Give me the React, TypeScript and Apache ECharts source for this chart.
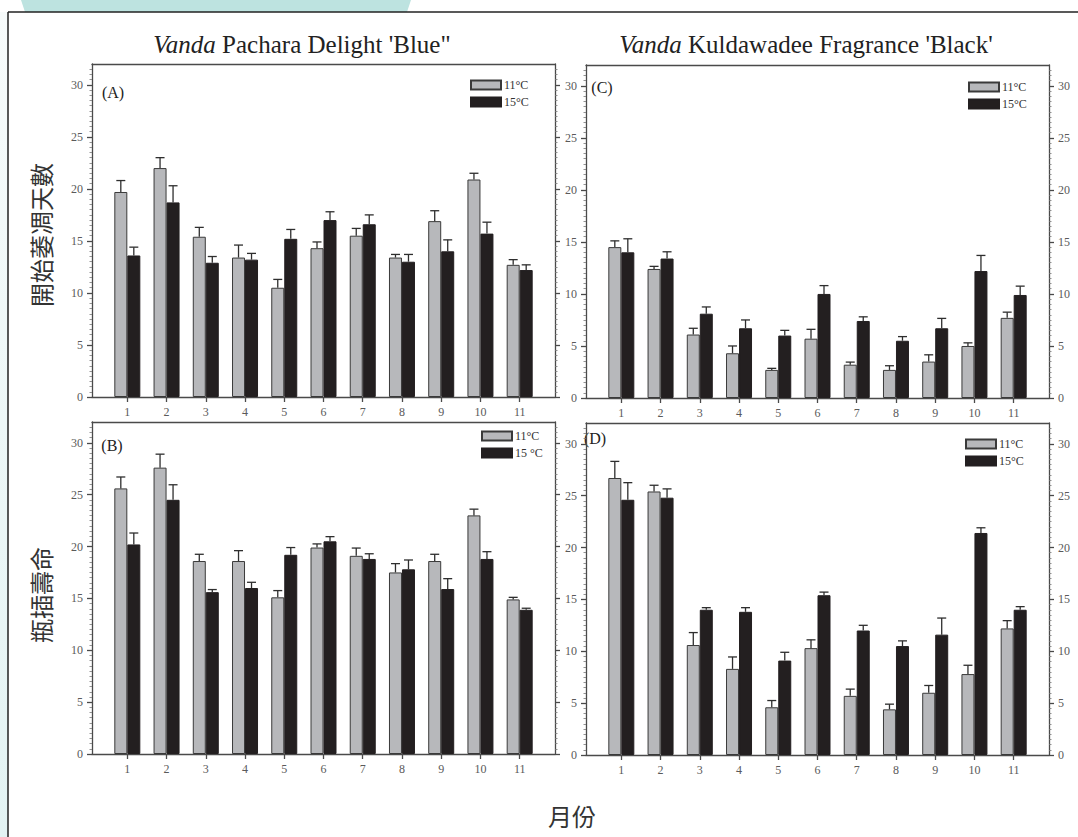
import React, { useEffect, useRef } from "react";
import * as echarts from "echarts";

const months = [1, 2, 3, 4, 5, 6, 7, 8, 9, 10, 11];
const yTicks = [0, 5, 10, 15, 20, 25, 30];

// Panel A: Vanda Pachara Delight 'Blue' – days to wilting
const a11 = [19.7, 22.0, 15.4, 13.4, 10.5, 14.3, 15.5, 13.4, 16.9, 20.9, 12.7];
const a11Se = [1.1, 1.0, 0.9, 1.2, 0.8, 0.6, 0.7, 0.3, 1.0, 0.6, 0.5];
const a15 = [13.6, 18.7, 12.9, 13.2, 15.2, 17.0, 16.6, 13.0, 14.0, 15.7, 12.2];
const a15Se = [0.8, 1.6, 0.6, 0.6, 0.9, 0.8, 0.9, 0.7, 1.1, 1.1, 0.5];

// Panel C: Vanda Kuldawadee Fragrance 'Black' – days to wilting
const c11 = [14.5, 12.4, 6.1, 4.3, 2.7, 5.7, 3.2, 2.7, 3.5, 5.0, 7.7];
const c11Se = [0.6, 0.25, 0.6, 0.7, 0.15, 0.9, 0.25, 0.4, 0.65, 0.3, 0.55];
const c15 = [14.0, 13.4, 8.1, 6.7, 6.0, 10.0, 7.4, 5.5, 6.7, 12.2, 9.9];
const c15Se = [1.3, 0.65, 0.65, 0.8, 0.5, 0.8, 0.4, 0.4, 0.95, 1.5, 0.85];

// Panel B: Vanda Pachara Delight 'Blue' – vase life
const b11 = [25.6, 27.6, 18.6, 18.6, 15.1, 19.9, 19.1, 17.5, 18.6, 23.0, 14.9];
const b11Se = [1.1, 1.3, 0.65, 1.0, 0.65, 0.35, 0.75, 0.85, 0.65, 0.6, 0.2];
const b15 = [20.2, 24.5, 15.6, 16.0, 19.2, 20.5, 18.8, 17.8, 15.9, 18.8, 13.9];
const b15Se = [1.1, 1.45, 0.25, 0.55, 0.7, 0.45, 0.5, 0.9, 1.0, 0.7, 0.15];

// Panel D: Vanda Kuldawadee Fragrance 'Black' – vase life
const d11 = [26.7, 25.4, 10.6, 8.3, 4.6, 10.3, 5.7, 4.4, 6.0, 7.8, 12.2];
const d11Se = [1.6, 0.6, 1.2, 1.15, 0.65, 0.8, 0.65, 0.5, 0.7, 0.85, 0.75];
const d15 = [24.6, 24.8, 14.0, 13.8, 9.1, 15.4, 12.0, 10.5, 11.6, 21.4, 14.0];
const d15Se = [1.65, 0.85, 0.2, 0.4, 0.8, 0.3, 0.5, 0.5, 1.6, 0.5, 0.3];

const legendText: Record<string, string> = {
  A11: "11°C",
  A15: "15°C",
  B11: "11°C",
  B15: "15 °C",
  C11: "11°C",
  C15: "15°C",
  D11: "11°C",
  D15: "15°C",
};

const titleGenus = "Vanda";
const titleLeft = " Pachara Delight 'Blue\"";
const titleRight = " Kuldawadee Fragrance 'Black'";

const SERIF = "'Liberation Serif', 'Times New Roman', serif";
const CJK = "'Noto Sans CJK TC', 'Noto Sans CJK SC', sans-serif";
const AXIS_COLOR = "#4a4a4a";
const LABEL_COLOR = "#5a5a5a";
const GRAY = "#b7b8bb";
const BLACK = "#231f20";
const BAR_W = 13;
const TITLE_FONT = `25px ${SERIF}`;
const TITLE_FONT_I = `italic 25px ${SERIF}`;

function measure(text: string, font: string) {
  const ctx = document.createElement("canvas").getContext("2d");
  if (!ctx) return text.length * 11;
  ctx.font = font;
  return ctx.measureText(text).width;
}

export default function App() {
  const ref = useRef<HTMLDivElement>(null);

  useEffect(() => {
    if (!ref.current) return;
    const chart = echarts.init(ref.current, undefined, { renderer: "svg" });

    const grids = [
      { left: 92, top: 64, width: 463, height: 333 },
      { left: 586, top: 65, width: 463, height: 333 },
      { left: 92, top: 422, width: 463, height: 332 },
      { left: 586, top: 423, width: 463, height: 332 },
    ];

    const lineStyle = { color: AXIS_COLOR, width: 1.3 };
    const labelStyle = { color: LABEL_COLOR, fontSize: 12, fontFamily: SERIF };

    const xAxis: any[] = [];
    const yAxis: any[] = [];
    grids.forEach((_, g) => {
      xAxis.push({
        type: "value",
        gridIndex: g,
        min: 0.1,
        max: 11.9,
        position: "bottom",
        axisLine: { show: true, onZero: false, lineStyle },
        axisTick: { show: true, customValues: months, length: 5, lineStyle },
        axisLabel: { customValues: months, margin: 9, ...labelStyle },
        splitLine: { show: false },
      });
      xAxis.push({
        type: "value",
        gridIndex: g,
        min: 0.1,
        max: 11.9,
        position: "top",
        axisLine: { show: true, onZero: false, lineStyle },
        axisTick: { show: false },
        axisLabel: { show: false },
        splitLine: { show: false },
      });
      const rightLabels = g === 1 || g === 3;
      const mk = (pos: string, showLabel: boolean) => ({
        type: "value",
        gridIndex: g,
        min: 0,
        max: 32,
        interval: 5,
        position: pos,
        axisLine: { show: true, onZero: false, lineStyle },
        axisTick: { show: true, customValues: yTicks, length: 5, lineStyle },
        minorTick: {
          show: true,
          splitNumber: 10,
          length: 2.5,
          lineStyle: { color: "#777", width: 0.8 },
        },
        axisLabel: { show: showLabel, customValues: yTicks, margin: 9, ...labelStyle },
        splitLine: { show: false },
        minorSplitLine: { show: false },
      });
      yAxis.push(mk("left", true));
      yAxis.push(mk("right", rightLabels));
    });

    const panels = [
      { key: "A", g: 0, v11: a11, e11: a11Se, v15: a15, e15: a15Se },
      { key: "C", g: 1, v11: c11, e11: c11Se, v15: c15, e15: c15Se },
      { key: "B", g: 2, v11: b11, e11: b11Se, v15: b15, e15: b15Se },
      { key: "D", g: 3, v11: d11, e11: d11Se, v15: d15, e15: d15Se },
    ];

    const errSeries = (g: number, vals: number[], se: number[], offset: number) => ({
      type: "custom",
      xAxisIndex: 2 * g,
      yAxisIndex: 2 * g,
      z: 5,
      silent: true,
      data: months.map((m, i) => [m, vals[i], vals[i] + se[i]]),
      renderItem: (params: any, api: any) => {
        const p0 = api.coord([api.value(0), api.value(1)]);
        const p1 = api.coord([api.value(0), api.value(2)]);
        const x = p0[0] + offset;
        const style = { stroke: "#2e2e2e", lineWidth: 1.3 };
        return {
          type: "group",
          children: [
            { type: "line", shape: { x1: x, y1: p0[1], x2: x, y2: p1[1] }, style },
            { type: "line", shape: { x1: x - 4.5, y1: p1[1], x2: x + 4.5, y2: p1[1] }, style },
          ],
        };
      },
    });

    const series: any[] = [];
    panels.forEach((p) => {
      series.push({
        type: "bar",
        name: p.key + "11",
        xAxisIndex: 2 * p.g,
        yAxisIndex: 2 * p.g,
        barWidth: BAR_W,
        barGap: "0%",
        data: months.map((m, i) => [m, p.v11[i]]),
        itemStyle: { color: GRAY, borderColor: "#3a3a3a", borderWidth: 1 },
      });
      series.push({
        type: "bar",
        name: p.key + "15",
        xAxisIndex: 2 * p.g,
        yAxisIndex: 2 * p.g,
        barWidth: BAR_W,
        barGap: "0%",
        data: months.map((m, i) => [m, p.v15[i]]),
        itemStyle: { color: BLACK, borderColor: BLACK, borderWidth: 1 },
      });
      series.push(errSeries(p.g, p.v11, p.e11, -BAR_W / 2));
      series.push(errSeries(p.g, p.v15, p.e15, BAR_W / 2));
    });

    const legendPos: Record<string, [number, number]> = {
      A: [470, 79],
      C: [968, 81],
      B: [481, 430],
      D: [965, 438],
    };
    const legend = panels.map((p) => ({
      data: [p.key + "11", p.key + "15"],
      orient: "vertical",
      left: legendPos[p.key][0],
      top: legendPos[p.key][1],
      padding: 0,
      itemWidth: 30,
      itemHeight: 9,
      itemGap: 5,
      icon: "rect",
      selectedMode: false,
      formatter: (n: string) => legendText[n],
      textStyle: { fontFamily: SERIF, fontSize: 12, color: "#333", padding: [0, 0, 0, -2] },
    }));

    const panelLabel = (t: string, x: number, y: number) => ({
      type: "text",
      x,
      y,
      style: {
        text: t,
        fill: "#222",
        font: `16px ${SERIF}`,
        align: "center",
        verticalAlign: "middle",
      },
    });

    const titleParts = (rest: string, cx: number, cy: number) => {
      const wI = measure(titleGenus, TITLE_FONT_I);
      const wR = measure(rest, TITLE_FONT);
      const x0 = cx - (wI + wR) / 2;
      return [
        {
          type: "text",
          x: x0,
          y: cy,
          style: { text: titleGenus, font: TITLE_FONT_I, fill: "#222", align: "left", verticalAlign: "middle" },
        },
        {
          type: "text",
          x: x0 + wI,
          y: cy,
          style: { text: rest, font: TITLE_FONT, fill: "#222", align: "left", verticalAlign: "middle" },
        },
      ];
    };

    const cjkText = (t: string, x: number, y: number, rotation: number) => ({
      type: "text",
      x,
      y,
      rotation,
      style: {
        text: t,
        align: "center",
        verticalAlign: "middle",
        fill: "#333",
        font: `24px ${CJK}`,
      },
    });

    const graphic: any[] = [
      {
        type: "rect",
        shape: { x: 0, y: 12, width: 8, height: 825 },
        style: {
          fill: new echarts.graphic.LinearGradient(0, 0, 0, 1, [
            { offset: 0, color: "#f7fbfb" },
            { offset: 1, color: "#e3f3f3" },
          ]),
        },
        silent: true,
        z: -10,
      },
      {
        type: "polygon",
        shape: { points: [[21, 0], [411, 0], [407, 12], [25, 12]] },
        style: { fill: "#bde3e0" },
        silent: true,
        z: -10,
      },
      {
        type: "line",
        shape: { x1: 8, y1: 12, x2: 1078, y2: 12 },
        style: { stroke: "#222", lineWidth: 1.5 },
        silent: true,
      },
      {
        type: "line",
        shape: { x1: 8, y1: 12, x2: 8, y2: 837 },
        style: { stroke: "#222", lineWidth: 1.5 },
        silent: true,
      },
      ...titleParts(titleLeft, 302, 44),
      ...titleParts(titleRight, 806, 44),
      panelLabel("(A)", 113, 92),
      panelLabel("(C)", 602, 87),
      panelLabel("(B)", 112, 445),
      panelLabel("(D)", 595, 438),
      cjkText("開始萎凋天數", 40, 235, Math.PI / 2),
      cjkText("瓶插壽命", 40, 595, Math.PI / 2),
      cjkText("月份", 572, 815, 0),
    ];

    chart.setOption({
      animation: false,
      backgroundColor: "#ffffff",
      grid: grids,
      xAxis,
      yAxis,
      legend,
      series,
      graphic,
    });

    return () => chart.dispose();
  }, []);

  return (
    <div
      ref={ref}
      style={{ position: "fixed", left: 0, top: 0, width: 1078, height: 837 }}
    />
  );
}
